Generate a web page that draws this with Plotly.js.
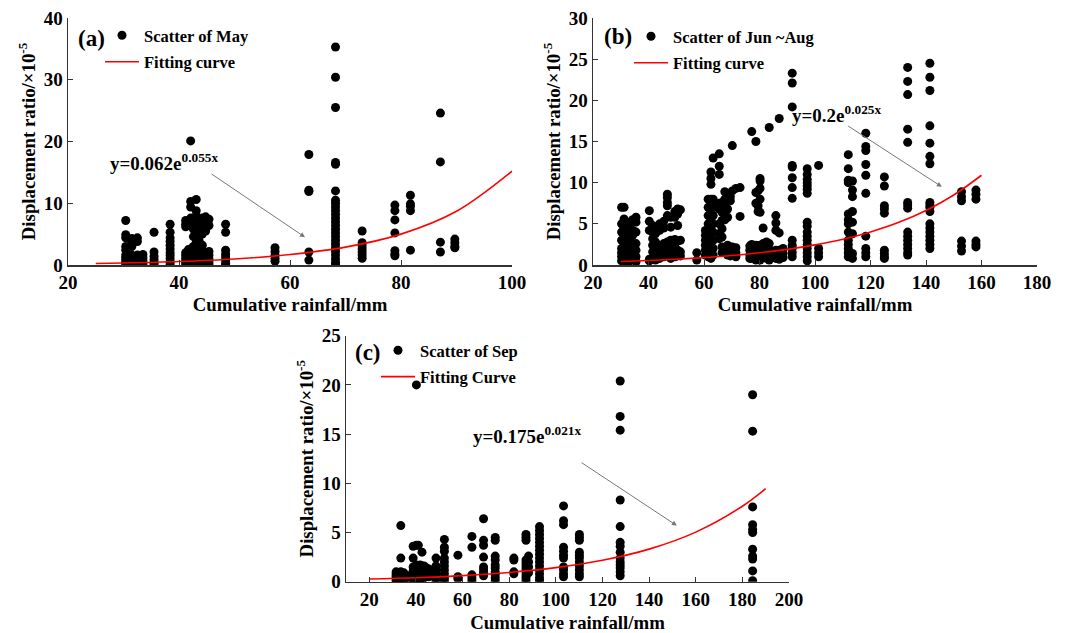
<!DOCTYPE html>
<html>
<head>
<meta charset="utf-8">
<script src="https://cdn.plot.ly/plotly-3.0.1.min.js"></script>
<style>html,body{margin:0;padding:0;background:#fff;}#chart{width:1067px;height:633px;}</style>
</head>
<body>
<div id="chart"></div>
<script>
// ---------- Panel (a): May ----------
const mayColX = [30.4, 31.5, 32.5, 33.5, 35.5, 38.4, 41.2, 41.7, 42.1, 42.6, 43.1, 43.6, 44.2, 44.8, 45.4, 48.4, 57.3, 63.4, 68.2, 73.0, 78.9, 81.7, 87.1, 89.7];
const mayColY = [
  [7.2, 4.9, 4.4, 3.0, 2.4, 1.6, 1.2, 0.8, 0.4, 0.1],
  [4.3, 3.6, 3.0, 1.6, 1.2, 0.8, 0.4, 0.1],
  [4.4, 3.8, 1.6, 1.2, 0.8, 0.4, 0.1],
  [1.7, 1.2, 0.8, 0.4, 0.1],
  [5.3, 2.1, 1.4, 0.9, 0.4, 0.1],
  [6.6, 5.3, 4.4, 3.8, 3.2, 2.6, 2.0, 1.5, 1.0, 0.5, 0.1],
  [7.2, 6.6, 6.2, 2.0, 1.5, 1.0, 0.5, 0.1],
  [7.0, 6.4, 2.5, 1.8, 1.2, 0.6, 0.2],
  [20.1, 10.3, 9.4, 7.6, 6.8, 2.6, 1.9, 1.3, 0.7, 0.2],
  [7.4, 6.6, 5.8, 4.6, 3.0, 2.2, 1.6, 1.0, 0.4],
  [10.6, 8.8, 8.0, 7.2, 6.4, 5.2, 4.4, 3.6, 2.8, 2.0, 1.2, 0.5],
  [7.2, 6.3, 5.0, 4.0, 3.3, 2.5, 1.7, 1.0, 0.3],
  [7.6, 7.0, 6.0, 5.0, 3.2, 2.4, 1.6, 0.8, 0.2],
  [7.8, 6.9, 6.0, 5.5, 2.0, 1.5, 1.0, 0.5, 0.1],
  [7.4, 6.4, 2.2, 1.6, 1.0, 0.5, 0.1],
  [6.6, 5.3, 2.4, 1.8, 1.3, 0.8, 0.3, 0.0],
  [2.8, 2.2, 1.6, 1.1, 0.6],
  [17.9, 12.1, 11.9, 2.1, 0.8],
  [35.3, 30.4, 25.5, 16.6, 16.3, 12.0, 10.5, 10.0, 9.4, 8.8, 8.2, 7.6, 7.0, 6.4, 5.8, 5.2, 4.6, 4.0, 3.4, 2.8, 2.2, 1.6, 1.0, 0.4, 0.0],
  [5.5, 3.6, 3.1, 2.6, 2.1, 1.6, 1.1],
  [9.7, 8.8, 7.3, 5.2, 2.3, 1.8, 1.5],
  [11.3, 9.9, 9.5, 8.8, 2.4],
  [24.6, 16.7, 3.7, 2.1],
  [4.2, 3.6, 3.0, 2.8]
];
const mayFitX = [25, 30, 40, 50, 60, 70, 80, 90, 100];
const mayFitY = [0.25, 0.32, 0.56, 0.97, 1.7, 2.9, 5.0, 8.7, 15.2];

// ---------- Panel (b): Jun ~ Aug ----------
const summerColX = [30.3, 31.2, 32.2, 33.3, 34.3, 35.5, 40.3, 41.5, 42.5, 44.0, 45.5, 46.8, 48.0, 49.5, 50.5, 51.5, 57.4, 60.5, 61.5, 62.5, 63.3, 65.5, 66.5, 67.5, 68.5, 69.5, 70.2, 71.5, 73.0, 76.5, 77.2, 78.7, 79.5, 80.2, 81.3, 82.5, 83.5, 85.9, 87.1, 88.5, 91.8, 97.2, 101.3, 112.0, 113.5, 118.3, 125.0, 133.4, 141.4, 152.8, 158.0];
const summerColY = [
  [7.0, 5.0, 4.0, 3.0, 2.0, 1.5, 1.0, 0.5],
  [7.0, 5.6, 4.6, 3.6, 2.6, 1.8, 1.2, 0.6],
  [5.2, 4.3, 3.4, 2.5, 1.7, 1.0, 0.4],
  [4.8, 3.9, 3.0, 2.0, 1.2, 0.5],
  [5.5, 4.2, 3.6, 2.2, 1.5, 0.7],
  [5.8, 5.2, 4.0, 2.6, 1.8, 1.0, 0.4],
  [6.6, 5.3, 4.2, 0.7, 0.5],
  [4.8, 4.0, 3.2, 2.4, 1.6, 0.8],
  [4.5, 3.8, 2.8, 2.0, 1.3, 0.6],
  [5.0, 4.2, 2.4, 1.6, 0.8],
  [5.3, 4.5, 2.6, 1.8, 1.0],
  [8.6, 8.2, 7.6, 7.2, 6.0, 2.8, 2.0, 1.2],
  [5.8, 4.6, 3.0, 2.2, 1.4, 0.8],
  [6.5, 5.8, 3.1, 2.2, 1.5, 1.0],
  [6.8, 6.2, 4.8, 2.9, 1.8, 1.1],
  [6.7, 3.0, 1.6, 1.1],
  [1.5, 0.6],
  [4.2, 3.6, 3.0, 2.4, 1.8, 1.2],
  [8.0, 7.0, 6.0, 5.0, 4.0, 3.0, 2.0, 1.0],
  [11.3, 10.5, 9.8, 8.0, 7.2, 6.4, 5.6, 4.8, 4.0, 3.2, 2.4, 1.6, 0.8],
  [13.0, 8.0, 7.0, 6.0, 5.0, 4.0, 3.0, 2.0, 1.2],
  [13.5, 12.0, 11.0, 7.5, 6.8, 5.0, 3.8, 3.2],
  [7.6, 6.4, 5.4, 4.4, 3.4, 2.2, 1.5],
  [8.9, 8.0, 7.0, 6.0, 5.5, 2.1, 1.6],
  [7.8, 6.8, 5.8, 2.4, 1.8, 1.2],
  [8.3, 7.8, 2.2, 1.6, 1.1],
  [14.5, 9.0, 2.2, 1.5],
  [9.3, 2.1, 1.5, 1.0],
  [9.4, 5.9],
  [2.3, 1.8, 1.2, 0.8],
  [16.2, 2.5, 1.9, 1.3, 0.8],
  [15.0, 8.8, 7.5, 2.4, 1.8, 1.2, 0.6],
  [9.0, 7.2, 6.5, 2.2, 1.5, 1.0],
  [10.5, 10.2, 9.3, 8.0, 6.4, 2.4, 1.8, 1.2, 0.6],
  [4.5, 2.6, 1.8, 1.1],
  [2.8, 2.1, 1.4, 0.8],
  [16.7, 2.6, 1.9, 1.2, 0.6],
  [6.0, 5.1, 4.2, 1.8, 1.2, 0.8],
  [17.8, 3.9, 1.8, 1.2, 0.7],
  [2.0, 1.4, 0.9],
  [23.3, 22.1, 19.2, 12.1, 11.9, 10.6, 9.4, 8.1, 3.0, 2.4, 2.0, 1.5, 1.0],
  [11.7, 11.0, 10.4, 10.0, 9.6, 9.2, 8.7, 5.2, 4.7, 4.0, 3.5, 3.0, 2.5, 2.0, 1.5, 1.0, 0.5],
  [12.1, 2.0, 1.5, 1.0],
  [13.4, 11.7, 10.3, 10.0, 6.2, 5.5, 5.0, 4.0, 3.0, 2.5, 2.0, 1.5, 1.0],
  [10.2, 9.1, 8.3, 6.5, 5.2, 3.8, 1.4, 0.8],
  [16.0, 14.4, 13.9, 12.2, 10.9, 8.7, 3.5, 2.0, 1.5, 1.0],
  [10.7, 9.6, 7.2, 6.8, 6.3, 1.8, 1.4, 1.0, 0.8],
  [24.0, 22.3, 20.7, 16.5, 14.9, 7.6, 7.3, 6.9, 4.0, 3.5, 3.0, 2.5, 2.0, 1.5, 1.2],
  [24.5, 22.8, 21.2, 16.9, 14.8, 13.2, 12.3, 7.6, 7.3, 7.0, 6.5, 5.0, 4.5, 4.0, 3.5, 3.0, 2.5, 2.0],
  [8.9, 8.3, 7.8, 2.9, 2.3, 1.7],
  [9.1, 8.6, 8.0, 2.9, 2.5, 2.2]
];
const summerFitX = [30, 40, 50, 60, 70, 80, 90, 100, 110, 120, 130, 140, 150, 160];
const summerFitY = [0.42, 0.54, 0.70, 0.90, 1.15, 1.48, 1.90, 2.44, 3.13, 4.02, 5.15, 6.62, 8.50, 10.9];

// ---------- Panel (c): Sep ----------
const sepColX = [31.5, 33.5, 34.8, 37.0, 38.8, 40.2, 41.0, 41.8, 42.6, 43.5, 44.5, 45.5, 48.6, 52.2, 58.0, 64.0, 69.0, 74.0, 82.0, 87.2, 88.3, 93.0, 103.3, 110.1, 127.6, 184.4];
const sepColY = [
  [1.0, 0.8, 0.6, 0.4, 0.2, 0.0],
  [5.7, 2.4, 1.0, 0.7, 0.4, 0.1],
  [0.9, 0.5, 0.2],
  [0.6, 0.3],
  [3.6, 2.4, 1.5, 1.1, 0.7, 0.3],
  [20.0, 3.7, 1.7, 1.3, 0.9, 0.5, 0.2],
  [3.7, 1.6, 1.2, 0.8, 0.4],
  [1.7, 1.3, 0.9, 0.5, 0.2],
  [3.0, 1.6, 1.2, 0.8, 0.4],
  [1.6, 1.2, 0.8, 0.4],
  [1.4, 1.0, 0.6],
  [1.3, 0.9, 0.5],
  [2.4, 1.6, 1.2, 0.8, 0.4, 0.1],
  [4.3, 3.5, 3.1, 2.4, 2.0, 1.6, 1.2, 0.8, 0.4, 0.1],
  [2.7, 0.5, 0.3],
  [4.6, 3.5, 0.7, 0.4, 0.1],
  [6.4, 4.2, 3.7, 2.5, 1.5, 1.2, 0.9, 0.6],
  [4.5, 4.2, 2.6, 2.2, 1.7, 1.4, 1.0, 0.7, 0.4, 0.1],
  [2.4, 2.2, 1.0, 0.8],
  [4.8, 4.5, 4.2, 2.2, 1.9, 1.6, 1.3, 1.0, 0.7, 0.4, 0.1],
  [2.6, 2.0, 1.5, 0.9],
  [5.6, 5.2, 4.8, 4.4, 4.0, 3.6, 3.2, 2.8, 2.4, 2.0, 1.6, 1.2, 0.8, 0.4, 0.1],
  [7.7, 6.2, 5.8, 3.5, 3.1, 2.7, 2.4, 1.5, 1.2, 0.8, 0.5],
  [4.8, 4.5, 4.2, 3.0, 2.7, 2.4, 2.0, 1.6, 1.2, 0.8, 0.5],
  [20.4, 16.8, 15.4, 8.3, 5.6, 4.0, 3.6, 3.0, 2.4, 2.0, 1.7, 1.4, 1.0, 0.6],
  [19.0, 15.3, 7.6, 5.8, 5.3, 5.0, 3.3, 2.6, 2.3, 1.1, 0.1]
];
const sepFitX = [20, 40, 60, 80, 100, 120, 140, 160, 180, 190];
const sepFitY = [0.27, 0.40, 0.62, 0.94, 1.43, 2.18, 3.31, 5.04, 7.67, 9.46];

// ---------- Text ----------
const legendNames = {
  a: ["Scatter of May", "Fitting curve"],
  b: ["Scatter of Jun ~Aug", "Fitting curve"],
  c: ["Scatter of Sep", "Fitting Curve"]
};
const xTitle = "Cumulative rainfall/mm";
const yTitle = "Displacement ratio/×10<sup>-5</sup>";

// expand columns into point lists
function expand(colX, colY) {
  const xs = [], ys = [];
  colX.forEach((x, i) => colY[i].forEach(y => { xs.push(x); ys.push(y); }));
  return {xs, ys};
}
const A = expand(mayColX, mayColY);
const B = expand(summerColX, summerColY);
const C = expand(sepColX, sepColY);

const FONT = "Liberation Serif, Times New Roman, serif";
const W = 1067, H = 633;
const px = v => v / W, py = v => 1 - v / H;

const mk = {color: "#000", size: 9};
const ln = {color: "#ff0000", width: 1.6, shape: "spline"};

const traces = [
  {x: A.xs, y: A.ys, type: "scatter", mode: "markers", marker: mk, name: legendNames.a[0], xaxis: "x", yaxis: "y", legend: "legend", legendgroup: "a1"},
  {x: mayFitX, y: mayFitY, type: "scatter", mode: "lines", line: ln, name: legendNames.a[1], xaxis: "x", yaxis: "y", legend: "legend", legendgroup: "a2"},
  {x: B.xs, y: B.ys, type: "scatter", mode: "markers", marker: mk, name: legendNames.b[0], xaxis: "x2", yaxis: "y2", legend: "legend2", legendgroup: "b1"},
  {x: summerFitX, y: summerFitY, type: "scatter", mode: "lines", line: ln, name: legendNames.b[1], xaxis: "x2", yaxis: "y2", legend: "legend2", legendgroup: "b2"},
  {x: C.xs, y: C.ys, type: "scatter", mode: "markers", marker: mk, name: legendNames.c[0], xaxis: "x3", yaxis: "y3", legend: "legend3", legendgroup: "c1"},
  {x: sepFitX, y: sepFitY, type: "scatter", mode: "lines", line: ln, name: legendNames.c[1], xaxis: "x3", yaxis: "y3", legend: "legend3", legendgroup: "c2"}
];

const tickFont = {family: FONT, size: 19, color: "#000", weight: "bold"};
const titleFont = {family: FONT, size: 18.8, color: "#000", weight: "bold"};
function xax(domain, range, dtick, anchor, standoff) {
  return {domain, range, dtick, tick0: 0, anchor, showline: true, linecolor: "#333", linewidth: 1.5,
    ticks: "inside", ticklen: 5, tickcolor: "#333", showgrid: false, zeroline: false,
    tickfont: tickFont, title: {text: xTitle, font: titleFont, standoff}, fixedrange: true};
}
function yax(domain, range, dtick, anchor) {
  return {domain, range, dtick, tick0: 0, anchor, showline: true, linecolor: "#333", linewidth: 1.5,
    ticks: "inside", ticklen: 5, tickcolor: "#333", showgrid: false, zeroline: false,
    tickfont: tickFont, title: {text: yTitle, font: titleFont, standoff: 3}, fixedrange: true};
}
function leg(x, y) {
  return {x, y, xanchor: "left", yanchor: "top", bgcolor: "rgba(0,0,0,0)",
    font: {family: FONT, size: 16.5, color: "#000", weight: "bold"},
    tracegroupgap: 2, traceorder: "grouped", itemwidth: 34};
}

const eqFont = {family: FONT, size: 19, color: "#000", weight: "bold"};
const lblFont = {family: FONT, size: 23, color: "#000", weight: "bold"};
const arrowStyle = {showarrow: true, arrowhead: 2, arrowsize: 1, arrowwidth: 1, arrowcolor: "#777", text: "", standoff: 0, startstandoff: 0};

const layout = {
  width: W, height: H,
  margin: {l: 0, r: 0, t: 0, b: 0},
  paper_bgcolor: "#fff", plot_bgcolor: "#fff",
  showlegend: true,
  xaxis: xax([px(68), px(512)], [20, 100], 20, "y", 5),
  yaxis: yax([py(265), py(18)], [0, 40], 10, "x"),
  xaxis2: xax([px(593), px(1037)], [20, 180], 20, "y2", 5),
  yaxis2: yax([py(265), py(18)], [0, 30], 5, "x2"),
  xaxis3: xax([px(346), px(789)], [10, 200], 20, "y3", 18),
  yaxis3: yax([py(581.7), py(335.7)], [0, 25], 5, "x3"),
  legend: leg(px(100), py(18)),
  legend2: leg(px(629), py(19)),
  legend3: leg(px(376), py(333)),
  annotations: [
    {xref: "paper", yref: "paper", x: px(91), y: py(38), xanchor: "center", yanchor: "middle", text: "(a)", showarrow: false, font: lblFont},
    {xref: "paper", yref: "paper", x: px(618), y: py(36), xanchor: "center", yanchor: "middle", text: "(b)", showarrow: false, font: lblFont},
    {xref: "paper", yref: "paper", x: px(368), y: py(353), xanchor: "center", yanchor: "middle", text: "(c)", showarrow: false, font: lblFont},
    {xref: "x", yref: "y", x: 37.3, y: 16.6, xanchor: "center", text: "y=0.062e<sup>0.055x</sup>", showarrow: false, font: eqFont},
    Object.assign({xref: "x", yref: "y", axref: "x", ayref: "y", x: 62.7, y: 4.5, ax: 45.6, ay: 14.9}, arrowStyle),
    {xref: "x2", yref: "y2", x: 107.6, y: 18.3, xanchor: "center", text: "y=0.2e<sup>0.025x</sup>", showarrow: false, font: eqFont},
    Object.assign({xref: "x2", yref: "y2", axref: "x2", ayref: "y2", x: 145.7, y: 9.5, ax: 111.4, ay: 17.0}, arrowStyle),
    {xref: "x3", yref: "y3", x: 87.6, y: 14.9, xanchor: "center", text: "y=0.175e<sup>0.021x</sup>", showarrow: false, font: eqFont},
    Object.assign({xref: "x3", yref: "y3", axref: "x3", ayref: "y3", x: 151.9, y: 5.7, ax: 110.4, ay: 12.2}, arrowStyle)
  ]
};

Plotly.newPlot("chart", traces, layout, {staticPlot: true, displayModeBar: false});
</script>
</body>
</html>
